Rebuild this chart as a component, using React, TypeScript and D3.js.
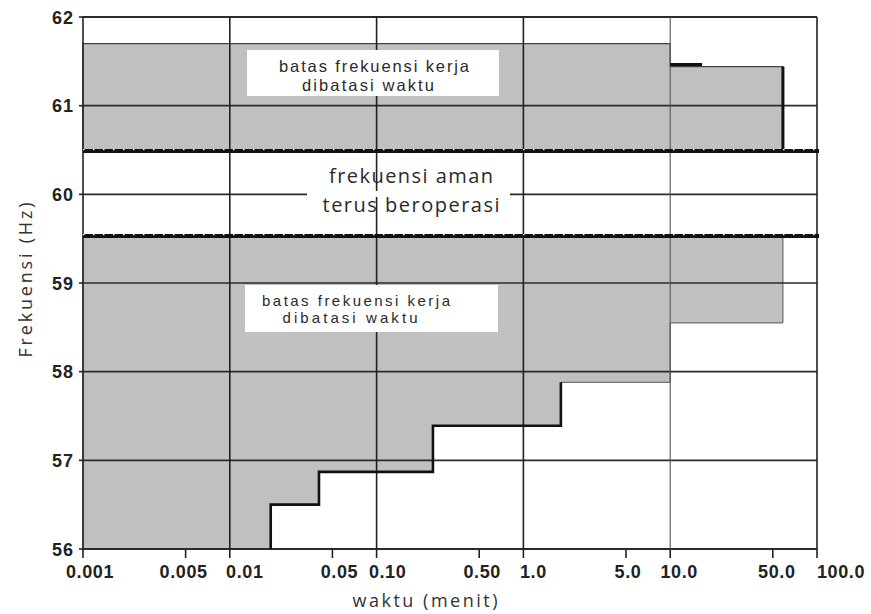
import React from 'react';
import * as d3 from 'd3';

// chart values
const tickValues = [0.001, 0.005, 0.01, 0.05, 0.1, 0.5, 1, 5, 10, 50, 100];
const tickLabels = ['0.001', '0.005', '0.01', '0.05', '0.10', '0.50', '1.0', '5.0', '10.0', '50.0', '100.0'];
const gridTimes = [0.01, 0.1, 1, 10, 100];
const freqTicks = [56, 57, 58, 59, 60, 61, 62];

// time limited band above the safe band (step after)
const upperTimes = [0.001, 10, 58.6];
const upperFreqs = [61.7, 61.44, 61.44];
// time limited band below the safe band (lower edge, step after)
const lowerTimes = [0.001, 0.019, 0.0405, 0.242, 1.8, 10, 58.6];
const lowerFreqs = [56, 56.5, 56.87, 57.39, 57.88, 58.55, 58.55];
// continuous operation band
const safeLow = 59.53;
const safeHigh = 60.49;

const W = 871;
const H = 614;
const left = 83, right = 817, top = 17, bottom = 549;

// label nudges as in the original layout
const labelShift = [7, -2, 15, 7, 11, 3, 10, 2, 9, 4, 24];

const App = () => {
  const x = d3.scaleLog().domain([0.001, 100]).range([left, right]);
  const y = d3.scaleLinear().domain([56, 62]).range([bottom, top]);

  const upperPts: [number, number][] = upperTimes.map((t, i) => [t, upperFreqs[i]]);
  const lowerPts: [number, number][] = lowerTimes.map((t, i) => [t, lowerFreqs[i]]);
  const stairPts: [number, number][] = [[lowerTimes[1], lowerFreqs[0]], ...lowerPts.slice(1, 5)];

  const upperArea = d3.area<[number, number]>()
    .x(d => x(d[0]))
    .y0(y(safeHigh))
    .y1(d => y(d[1]))
    .curve(d3.curveStepAfter);

  const lowerArea = d3.area<[number, number]>()
    .x(d => x(d[0]))
    .y0(d => y(d[1]))
    .y1(y(safeLow))
    .curve(d3.curveStepAfter);

  const stepLine = d3.line<[number, number]>()
    .x(d => x(d[0]))
    .y(d => y(d[1]))
    .curve(d3.curveStepAfter);

  const lastT = upperTimes[upperTimes.length - 1];
  const labelFont = '"Liberation Sans", Arial, sans-serif';
  const textFont = '"Liberation Sans", Arial, sans-serif';
  const titleFont = '"Open Sans", "Noto Sans", sans-serif';

  return (
    <svg width={W} height={H} style={{ position: 'absolute', left: 0, top: 0, background: '#fff' }}>
      <rect width={W} height={H} fill="#fff" />

      {/* shaded regions */}
      <path d={upperArea(upperPts) || ''} fill="#c0c0c0" stroke="#444" strokeWidth={1.2} />
      <path d={lowerArea(lowerPts) || ''} fill="#c0c0c0" stroke="#555" strokeWidth={1} />

      {/* horizontal grid */}
      {freqTicks.map(f => (
        <line key={'h' + f} x1={left} x2={right} y1={y(f)} y2={y(f)}
          stroke="#2a2a2a" strokeWidth={f === 56 || f === 62 ? 2 : 1.6} />
      ))}
      {/* vertical grid */}
      {gridTimes.map(t => (
        <line key={'v' + t} x1={x(t)} x2={x(t)} y1={top} y2={bottom}
          stroke={t === 10 ? '#555' : '#222'} strokeWidth={t === 10 ? 1.1 : 1.6} />
      ))}
      <line x1={left} x2={left} y1={top} y2={bottom} stroke="#222" strokeWidth={1.6} />

      {/* stair outline */}
      <path d={stepLine(stairPts) || ''} fill="none" stroke="#111" strokeWidth={2.6} />
      <line x1={x(lastT)} x2={x(lastT)} y1={y(upperFreqs[1])} y2={y(safeHigh)} stroke="#111" strokeWidth={3} />
      <line x1={x(10)} x2={x(16.5)} y1={y(61.465)} y2={y(61.465)} stroke="#111" strokeWidth={3} />

      {/* safe band boundaries */}
      {[safeHigh, safeLow].map(f => (
        <g key={'d' + f}>
          <line x1={left} x2={right + 2} y1={y(f)} y2={y(f)} stroke="#111" strokeWidth={4} />
          <line x1={left} x2={right + 2} y1={y(f) - 1.3} y2={y(f) - 1.3} stroke="#fff"
            strokeWidth={1.3} strokeDasharray="1.5 8.5" />
        </g>
      ))}

      {/* annotations */}
      <rect x={247} y={50} width={252} height={46} fill="#fff" />
      <text x={374} y={72} textAnchor="middle" fontFamily={textFont} fontSize={16.5} fill="#2a2a2a"
        textLength={190} lengthAdjust="spacing">batas frekuensi kerja</text>
      <text x={368} y={90.5} textAnchor="middle" fontFamily={textFont} fontSize={16.5} fill="#2a2a2a"
        textLength={132} lengthAdjust="spacing">dibatasi waktu</text>

      <rect x={307} y={191} width={203} height={6} fill="#fff" />
      <text x={411} y={183} textAnchor="middle" fontFamily={titleFont} fontSize={20} fill="#2a2a2a"
        textLength={164} lengthAdjust="spacing">frekuensi aman</text>
      <text x={411} y={212} textAnchor="middle" fontFamily={titleFont} fontSize={20} fill="#2a2a2a"
        textLength={177} lengthAdjust="spacing">terus beroperasi</text>

      <rect x={245} y={285} width={253} height={47} fill="#fff" />
      <text x={356} y={306} textAnchor="middle" fontFamily={textFont} fontSize={15} fill="#2a2a2a"
        textLength={188} lengthAdjust="spacing">batas frekuensi kerja</text>
      <text x={350} y={323} textAnchor="middle" fontFamily={textFont} fontSize={15} fill="#2a2a2a"
        textLength={135} lengthAdjust="spacing">dibatasi waktu</text>

      {/* x axis ticks and labels */}
      {tickValues.map((t, i) => (
        <g key={'t' + t}>
          <line x1={x(t)} x2={x(t)} y1={bottom} y2={bottom + 9} stroke="#222" strokeWidth={1.6} />
          <text x={x(t) + labelShift[i]} y={578} textAnchor="middle"
            fontFamily={labelFont} fontWeight="bold" fontSize={18} letterSpacing={0.6} fill="#222">
            {tickLabels[i]}
          </text>
        </g>
      ))}

      {/* y axis ticks and labels */}
      {freqTicks.map(f => (
        <g key={'y' + f}>
          <line x1={left - 4} x2={left} y1={y(f)} y2={y(f)} stroke="#222" strokeWidth={1.6} />
          <text x={74} y={y(f) + 6.5} textAnchor="end" fontFamily={labelFont} fontWeight="bold"
            fontSize={18} letterSpacing={1} fill="#222">{f}</text>
        </g>
      ))}

      {/* axis titles */}
      <text x={425} y={607} textAnchor="middle" fontFamily={titleFont} fontSize={18} fill="#333"
        textLength={145} lengthAdjust="spacing">waktu (menit)</text>
      <text transform="translate(32,280) rotate(-90)" textAnchor="middle" fontFamily={titleFont}
        fontSize={18} fill="#333" textLength={155} lengthAdjust="spacing">Frekuensi (Hz)</text>
    </svg>
  );
};

export default App;
